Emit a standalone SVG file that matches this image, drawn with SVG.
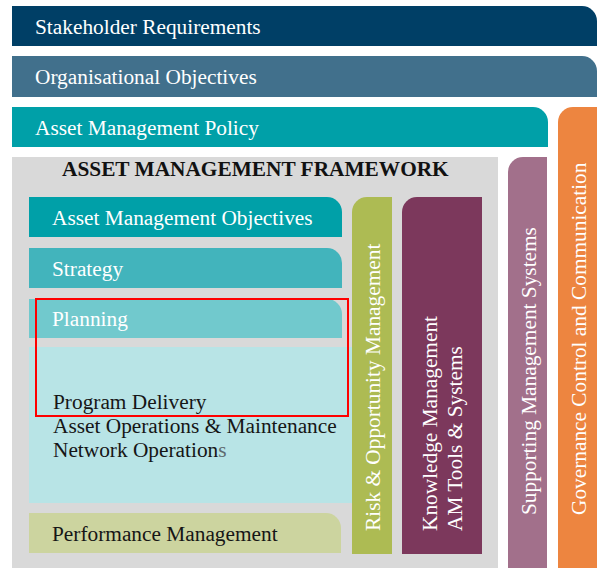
<svg xmlns="http://www.w3.org/2000/svg" width="600" height="568" viewBox="0 0 600 568">
<style>
text{font-family:"Liberation Serif","Times New Roman",serif;font-size:21.33px}
.w{fill:#ffffff}
.k{fill:#161616}
.t{font-weight:bold;fill:#111111}
</style>
<rect width="600" height="568" fill="#ffffff"/>
<g id="stakeholder-requirements">
<path d="M12,6 H582 A15,15 0 0 1 597,21 V46 H12 Z" fill="#003f66"/>
<text class="w" x="35" y="34">Stakeholder Requirements</text>
</g>
<g id="organisational-objectives">
<path d="M12,56 H582 A15,15 0 0 1 597,71 V97 H12 Z" fill="#41708c"/>
<text class="w" x="35" y="84">Organisational Objectives</text>
</g>
<g id="asset-management-policy">
<path d="M12,107 H533 A15,15 0 0 1 548,122 V147 H12 Z" fill="#00a0a8"/>
<text class="w" x="35" y="135">Asset Management Policy</text>
</g>
<g id="governance">
<path d="M558,122 A15,15 0 0 1 573,107 H597 V568 H558 Z" fill="#ed8540"/>
<text class="w" transform="translate(586,515) rotate(-90)">Governance Control and Communication</text>
</g>
<g id="framework">
<rect x="12" y="157" width="486" height="411" fill="#d9d9d9"/>
<text class="t" x="62" y="176">ASSET MANAGEMENT FRAMEWORK</text>
</g>
<g id="supporting-management-systems">
<path d="M508,172 A15,15 0 0 1 523,157 H547 V568 H508 Z" fill="#a2708b"/>
<text class="w" transform="translate(536,515) rotate(-90)">Supporting Management Systems</text>
</g>
<g id="am-objectives">
<path d="M29,197 H327 A15,15 0 0 1 342,212 V237 H29 Z" fill="#00a0a8"/>
<text class="w" x="52" y="225">Asset Management Objectives</text>
</g>
<g id="strategy">
<path d="M29,248 H327 A15,15 0 0 1 342,263 V288 H29 Z" fill="#42b4bc"/>
<text class="w" x="52" y="276">Strategy</text>
</g>
<g id="planning">
<path d="M29,299 H327 A15,15 0 0 1 342,314 V338 H29 Z" fill="#71c9cd"/>
<text class="w" x="52" y="326">Planning</text>
</g>
<g id="delivery">
<rect x="29" y="347" width="323" height="156" fill="#b8e4e6"/>
<text class="k" x="53" y="409">Program Delivery</text>
<text class="k" x="53" y="433">Asset Operations &amp; Maintenance</text>
<text class="k" x="53" y="457">Network Operation<tspan fill="#5f6b70">s</tspan></text>
</g>
<g id="performance-management">
<path d="M29,513 H326 A15,15 0 0 1 341,528 V553 H29 Z" fill="#ccd49f"/>
<text class="k" x="52" y="541">Performance Management</text>
</g>
<g id="risk-opportunity">
<path d="M352,212 A15,15 0 0 1 367,197 H392 V554 H352 Z" fill="#adbb53"/>
<text class="w" transform="translate(380,531) rotate(-90)">Risk &amp; Opportunity Management</text>
</g>
<g id="knowledge-management">
<path d="M402,212 A15,15 0 0 1 417,197 H482 V554 H402 Z" fill="#7c385c"/>
<text class="w" transform="translate(437,531) rotate(-90)">Knowledge Management</text>
<text class="w" transform="translate(462,531) rotate(-90)">AM Tools &amp; Systems</text>
</g>
<g id="highlight">
<rect x="36" y="299" width="312" height="117" fill="none" stroke="#ff0000" stroke-width="2"/>
</g>
<g id="connectors"/>
</svg>
